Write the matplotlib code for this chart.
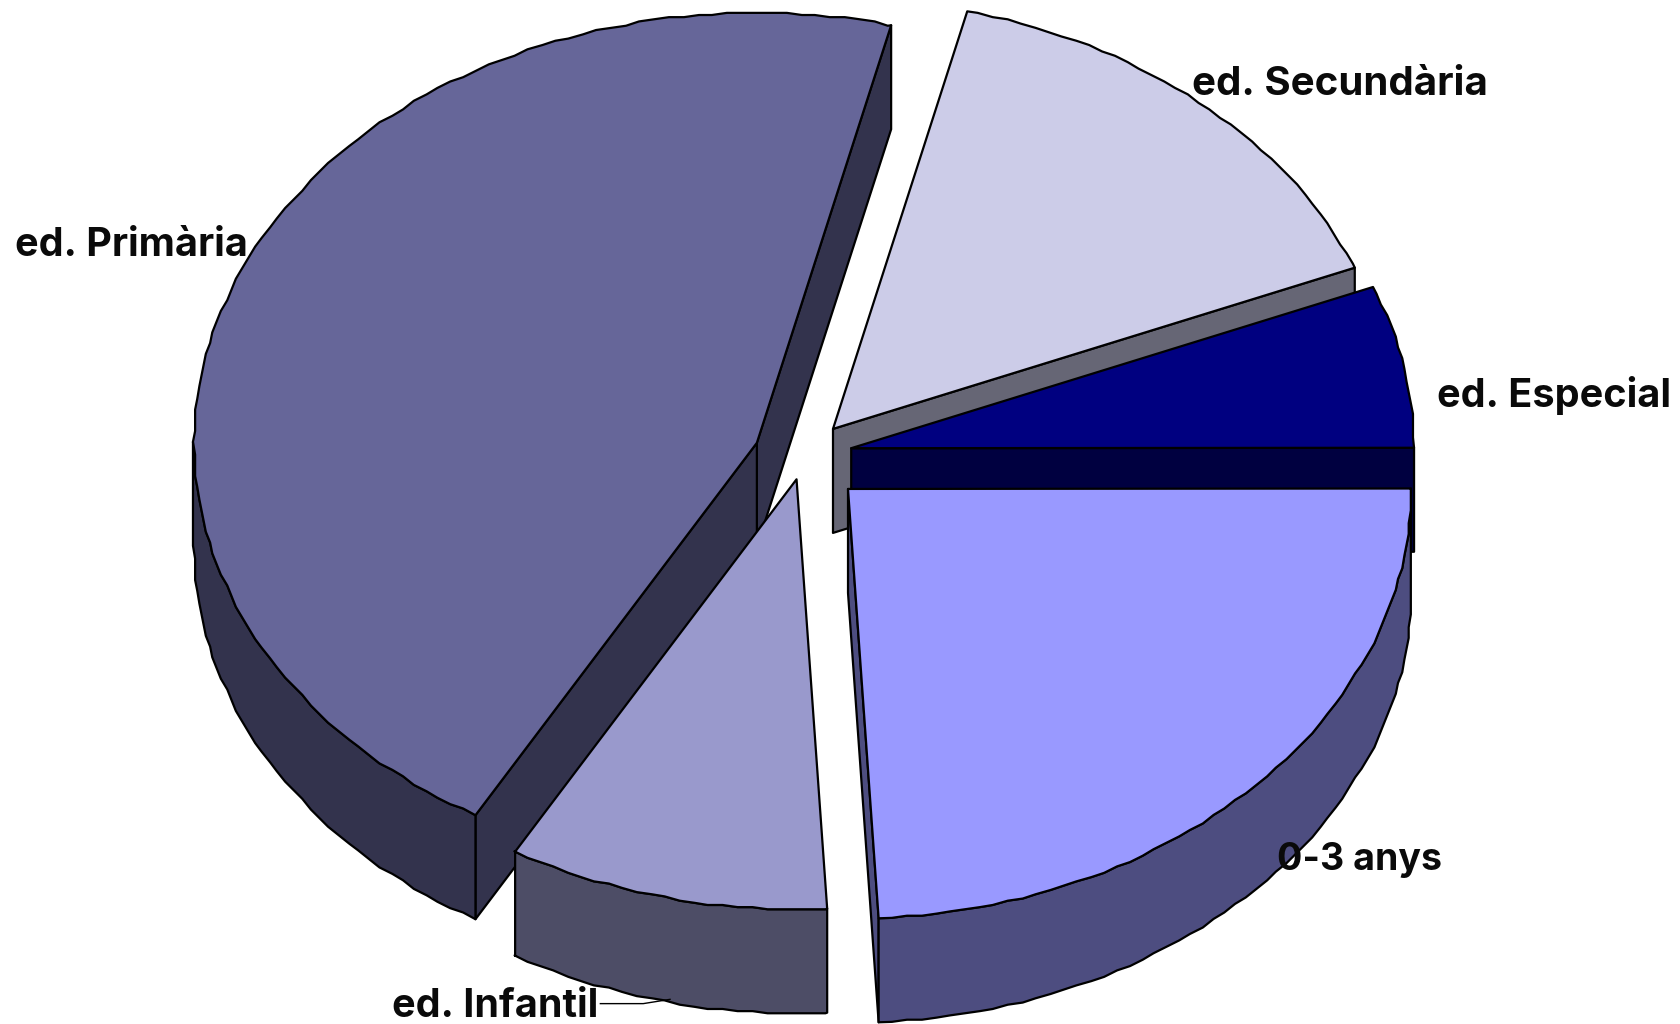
# Exploded 3D pie, drawn by hand since matplotlib has no 3D pie
import numpy as np
import matplotlib
matplotlib.use('Agg')
import matplotlib.pyplot as plt

labels = ['ed. Primària', 'ed. Infantil', '0-3 anys', 'ed. Especial', 'ed. Secundària']
shares = [45.5, 9.2, 24.15, 6.1, 15.05]

top_colors = ['#666699', '#9999CC', '#9999FF', '#000080', '#CCCCE8']
side_colors = ['#33334D', '#4D4D66', '#4D4D80', '#000040', '#666675']
apex_x = [706, 743, 791, 794, 777]
apex_y = [413, 447, 456, 418, 400]
label_x = [14, 366, 1191, 1340, 1112]
label_y = [229, 939, 802, 369, 79]
label_size = [28.5, 28.5, 27, 28.5, 29]

START = 76.2
RX, RY, DEPTH = 525, 401, 97
LW = 1.6
STEP, GRID = 1.5, 2  # the original outline is slightly stepped

fig = plt.figure(figsize=(16.81, 10.24), dpi=100)
ax = fig.add_axes([0, 0, 1, 1])
ax.set_xlim(0, 1568)
ax.set_ylim(955, 0)
ax.axis('off')


def arc(cx, cy, a0, a1):
    inner = np.arange(np.ceil(a0 / STEP) * STEP, a1, STEP)
    a = np.r_[a0, inner, a1]
    t = np.radians(a)
    x = cx + RX * np.cos(t)
    y = cy - RY * np.sin(t)
    x[1:-1] = np.round(x[1:-1] / GRID) * GRID
    y[1:-1] = np.round(y[1:-1] / GRID) * GRID
    return a, x, y


def face(xs, ys, color, z):
    ax.fill(xs, ys, facecolor=color, edgecolor='black', linewidth=LW, joinstyle='round', zorder=z)


edges = START + np.cumsum([0] + shares) * 3.6
# back to front: same stacking as the original
order = [0, 4, 3, 2, 1]

for z, i in enumerate(order):
    a0, a1 = edges[i], edges[i + 1]
    cx, cy = apex_x[i], apex_y[i]
    a, x, y = arc(cx, cy, a0, a1)
    base = z * 10

    # flat cut faces, only if they turn towards the viewer
    if np.sin(np.radians(a0 - 90)) < 0:
        face([cx, x[0], x[0], cx], [cy, y[0], y[0] + DEPTH, cy + DEPTH], side_colors[i], base)
    if np.sin(np.radians(a1 + 90)) < 0:
        face([cx, x[-1], x[-1], cx], [cy, y[-1], y[-1] + DEPTH, cy + DEPTH], side_colors[i], base)

    # rim, only the part that faces the viewer
    front = (a >= 180) & (a <= 360.5)
    if front.sum() > 1:
        rx, ry = x[front], y[front]
        face(np.r_[rx, rx[::-1]], np.r_[ry, ry[::-1] + DEPTH], side_colors[i], base + 1)

    face(np.r_[cx, x], np.r_[cy, y], top_colors[i], base + 2)

# leader line of the infantil label
ax.plot([560, 600, 625], [936, 936, 932], color='black', linewidth=1, zorder=60)

for name, lx, ly, size in zip(labels, label_x, label_y, label_size):
    ax.text(lx, ly, name, family='Inter', weight='bold', fontsize=size, color='#0a0a0a',
            ha='left', va='center', zorder=70)

fig.savefig('out.png', dpi=100)
